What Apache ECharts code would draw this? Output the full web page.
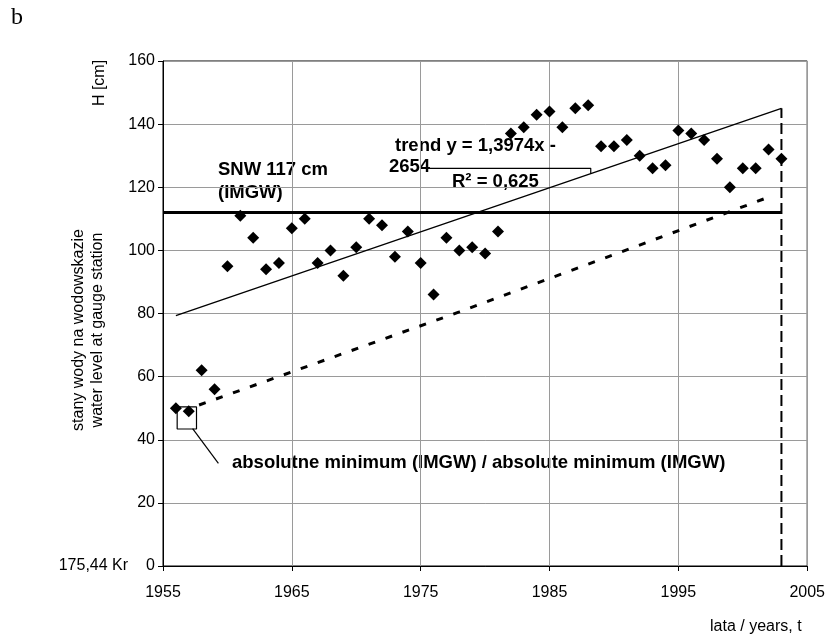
<!DOCTYPE html>
<html>
<head>
<meta charset="utf-8">
<script src="https://cdn.jsdelivr.net/npm/echarts@6/dist/echarts.min.js"></script>
<style>
  html, body { margin: 0; padding: 0; background: #fff; }
  #chart { width: 828px; height: 637px; }
</style>
</head>
<body>
<div id="chart"></div>
<script>
// lata / years
var years = [1956, 1957, 1958, 1959, 1960, 1961, 1962, 1963, 1964, 1965,
  1966, 1967, 1968, 1969, 1970, 1971, 1972, 1973, 1974, 1975,
  1976, 1977, 1978, 1979, 1980, 1981, 1982, 1983, 1984, 1985,
  1986, 1987, 1988, 1989, 1990, 1991, 1992, 1993, 1994, 1995,
  1996, 1997, 1998, 1999, 2000, 2001, 2002, 2003]
// stany wody H [cm]
var levels = [50, 49, 62, 56, 95, 111, 104, 94, 96, 107,
  110, 96, 100, 92, 101, 110, 108, 98, 106, 96,
  86, 104, 100, 101, 99, 106, 137, 139, 143, 144,
  139, 145, 146, 133, 133, 135, 130, 126, 127, 138,
  137, 135, 129, 120, 126, 126, 132, 129]
// trend line end points
var trendPts = [[1956, 79.3], [2003, 145]]
// lower dotted line
var lowPts = [[1957.8, 51], [1965, 61.5], [1978, 80.5], [2002.3, 117.3]]
// SNW level line
var snwPts = [[1955, 112], [2003, 112]]
// end marker (dashed vertical)
var endPts = [[2003, 0], [2003, 145]]
// box around absolute minimum + leader
var boxPts = [[1956.1, 50.4], [1957.6, 50.4], [1957.6, 43.4], [1956.1, 43.4], [1956.1, 50.4]]
var minLeader = [[1957.3, 43.5], [1959.3, 32.5]]
var trendLeader = [[1975.4, 126], [1988.2, 126], [1988.2, 124.3]]
var xTicks = [1955, 1965, 1975, 1985, 1995, 2005]

var chart = echarts.init(document.getElementById('chart'))
var font = '"Liberation Sans", Arial, sans-serif'
var bold = 'bold 18.5px ' + font

function pts (ys) {
  return ys.map(function (v, i) { return [years[i], v] })
}
function plain (name, data, lw, type, z) {
  return {
    name: name,
    type: 'line',
    data: data,
    symbol: 'none',
    silent: true,
    z: z || 2,
    lineStyle: { color: '#000', width: lw, type: type || 'solid' }
  }
}

var option = {
  animation: false,
  backgroundColor: '#fff',
  grid: {
    left: 163, top: 61, right: 18, bottom: 71,
    show: true, borderColor: '#000', borderWidth: 1
  },
  xAxis: {
    type: 'value',
    min: 1955, max: 2005, interval: 10,
    axisLine: { lineStyle: { color: '#000', width: 1 } },
    axisTick: { show: true, length: 5, lineStyle: { color: '#000' } },
    axisLabel: { color: '#000', fontSize: 16, fontFamily: font, margin: 19,
      formatter: function (v) { return xTicks.indexOf(v) >= 0 ? String(v) : '' } },
    splitLine: { show: true, lineStyle: { color: '#9a9a9a', width: 1 } }
  },
  yAxis: {
    type: 'value',
    min: 0, max: 160, interval: 20,
    axisLine: { show: true, lineStyle: { color: '#000', width: 1 } },
    axisTick: { show: true, length: 5, lineStyle: { color: '#000' } },
    axisLabel: {
      color: '#000', fontSize: 16, fontFamily: font, margin: 8,
      formatter: function (v) { return v === 0 ? '{k|175,44 Kr}{s|}0' : String(v) },
      rich: {
        k: { fontSize: 16, fontFamily: font, color: '#000' },
        s: { width: 18 }
      }
    },
    splitLine: { show: true, lineStyle: { color: '#9a9a9a', width: 1 } }
  },
  series: [
    plain('SNW', snwPts, 3, 'solid', 3),
    plain('trend', trendPts, 1.3, 'solid', 3),
    plain('low', lowPts, 3, [7, 11], 3),
    plain('end', endPts, 2, [11, 5], 3),
    plain('box', boxPts, 1.2, 'solid', 3),
    plain('minLeader', minLeader, 1.2, 'solid', 3),
    plain('trendLeader', trendLeader, 1.2, 'solid', 3),
    {
      name: 'H',
      type: 'scatter',
      data: pts(levels),
      symbol: 'diamond',
      symbolSize: [12, 12],
      itemStyle: { color: '#000', opacity: 1 },
      z: 5
    }
  ],
  graphic: [
    { type: 'text', x: 11, y: 18, style: { text: 'b', font: '24px "Liberation Serif", serif', fill: '#000', verticalAlign: 'middle' } },
    { type: 'text', x: 100, y: 83, rotation: Math.PI / 2,
      style: { text: 'H [cm]', font: '16px ' + font, fill: '#000', align: 'center', verticalAlign: 'middle' } },
    { type: 'text', x: 88, y: 330, rotation: Math.PI / 2,
      style: { text: 'stany wody na wodowskazie\nwater level at gauge station', font: '16px ' + font, lineHeight: 19,
        fill: '#000', align: 'center', verticalAlign: 'middle' } },
    { type: 'text', x: 710, y: 627, style: { text: 'lata / years, t', font: '16px ' + font, fill: '#000', verticalAlign: 'middle' } },
    { type: 'text', x: 218, y: 158, style: { text: 'SNW 117 cm\n(IMGW)', font: bold, lineHeight: 23, fill: '#000', verticalAlign: 'top' } },
    { type: 'text', x: 395, y: 146, style: { text: 'trend y = 1,3974x -', font: bold, fill: '#000', verticalAlign: 'middle' } },
    { type: 'text', x: 389, y: 167, style: { text: '2654', font: bold, fill: '#000', verticalAlign: 'middle' } },
    { type: 'text', x: 452, y: 182, style: { text: 'R² = 0,625', font: bold, fill: '#000', verticalAlign: 'middle' } },
    { type: 'text', x: 232, y: 463, style: { text: 'absolutne minimum (IMGW) / absolute minimum (IMGW)', font: bold, fill: '#000', verticalAlign: 'middle' } }
  ]
}
chart.setOption(option)
</script>
</body>
</html>
